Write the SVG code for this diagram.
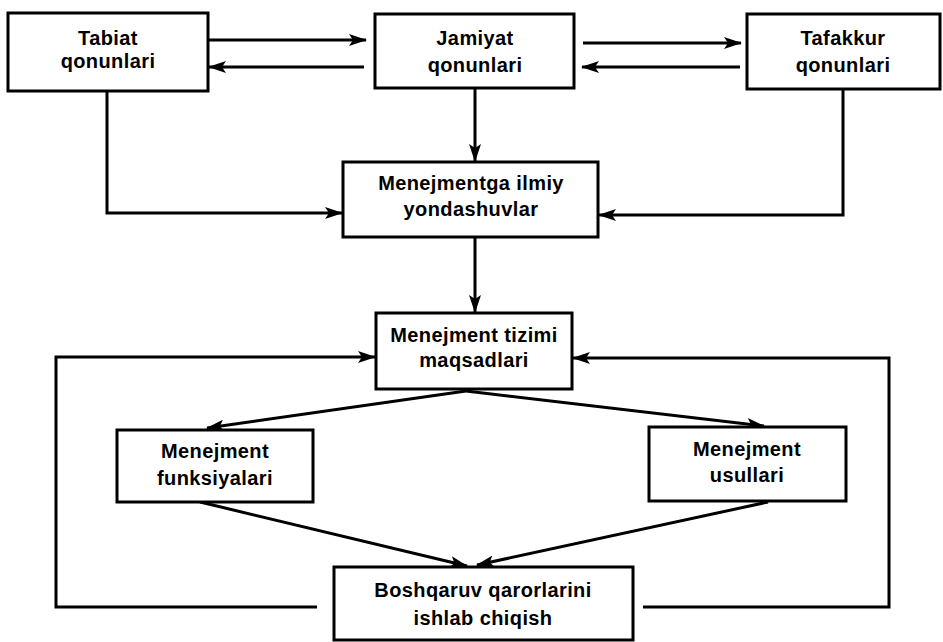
<svg xmlns="http://www.w3.org/2000/svg" width="943" height="642" viewBox="0 0 943 642">
<defs>
<marker id="ah" viewBox="0 0 18 12" refX="17" refY="6" markerWidth="18" markerHeight="12" markerUnits="userSpaceOnUse" orient="auto">
<path d="M0,0 L18,6 L0,12 L4,6 Z" fill="#000"/>
</marker>
</defs>
<style>
.box{fill:#fff;stroke:#000;stroke-width:3}
.t{font-family:"Liberation Sans",Arial,sans-serif;font-weight:bold;font-size:20px;letter-spacing:0.4px;text-anchor:middle;fill:#000}
.c{fill:none;stroke:#000;stroke-width:3}
.a{marker-end:url(#ah)}
</style>
<rect width="943" height="642" fill="#fff"/>
<g id="connectors">
<line class="c a" x1="208" y1="40" x2="366" y2="40"/>
<line class="c a" x1="364" y1="67" x2="209" y2="67"/>
<line class="c a" x1="583" y1="43" x2="741" y2="43"/>
<line class="c a" x1="740" y1="67" x2="582" y2="67"/>
<line class="c a" x1="475" y1="88" x2="475" y2="161"/>
<polyline class="c a" points="107,91 107,213 342,213"/>
<polyline class="c a" points="843,89 843,215 599,215"/>
<line class="c a" x1="475" y1="237" x2="475" y2="312"/>
<polyline class="c a" points="317,607 56,607 56,357 375,357"/>
<polyline class="c a" points="643,607 889,607 889,358 573,358"/>
<line class="c a" x1="466" y1="391" x2="207" y2="428"/>
<line class="c a" x1="466" y1="391" x2="764" y2="426"/>
<line class="c a" x1="200" y1="502" x2="467" y2="566"/>
<line class="c a" x1="768" y1="502" x2="477" y2="565"/>
</g>
<g id="tabiat">
<rect class="box" x="8" y="13" width="200" height="78"/>
<text class="t" x="108" y="45">Tabiat</text>
<text class="t" x="108" y="68">qonunlari</text>
</g>
<g id="jamiyat">
<rect class="box" x="375" y="14" width="199" height="74"/>
<text class="t" x="475" y="45">Jamiyat</text>
<text class="t" x="475" y="72">qonunlari</text>
</g>
<g id="tafakkur">
<rect class="box" x="747" y="14" width="193" height="75"/>
<text class="t" x="843" y="45">Tafakkur</text>
<text class="t" x="843" y="72">qonunlari</text>
</g>
<g id="ilmiy">
<rect class="box" x="343" y="162" width="255" height="75"/>
<text class="t" x="471" y="190">Menejmentga ilmiy</text>
<text class="t" x="471" y="216">yondashuvlar</text>
</g>
<g id="maqsadlari">
<rect class="box" x="376" y="313" width="196" height="76"/>
<text class="t" x="474" y="342">Menejment tizimi</text>
<text class="t" x="474" y="367">maqsadlari</text>
</g>
<g id="funksiyalari">
<rect class="box" x="117" y="430" width="196" height="72"/>
<text class="t" x="215" y="458">Menejment</text>
<text class="t" x="215" y="485">funksiyalari</text>
</g>
<g id="usullari">
<rect class="box" x="649" y="427" width="197" height="74"/>
<text class="t" x="747" y="456">Menejment</text>
<text class="t" x="747" y="482">usullari</text>
</g>
<g id="qarorlar">
<rect class="box" x="334" y="567" width="299" height="73"/>
<text class="t" x="483" y="597">Boshqaruv qarorlarini</text>
<text class="t" x="483" y="625">ishlab chiqish</text>
</g>
</svg>
